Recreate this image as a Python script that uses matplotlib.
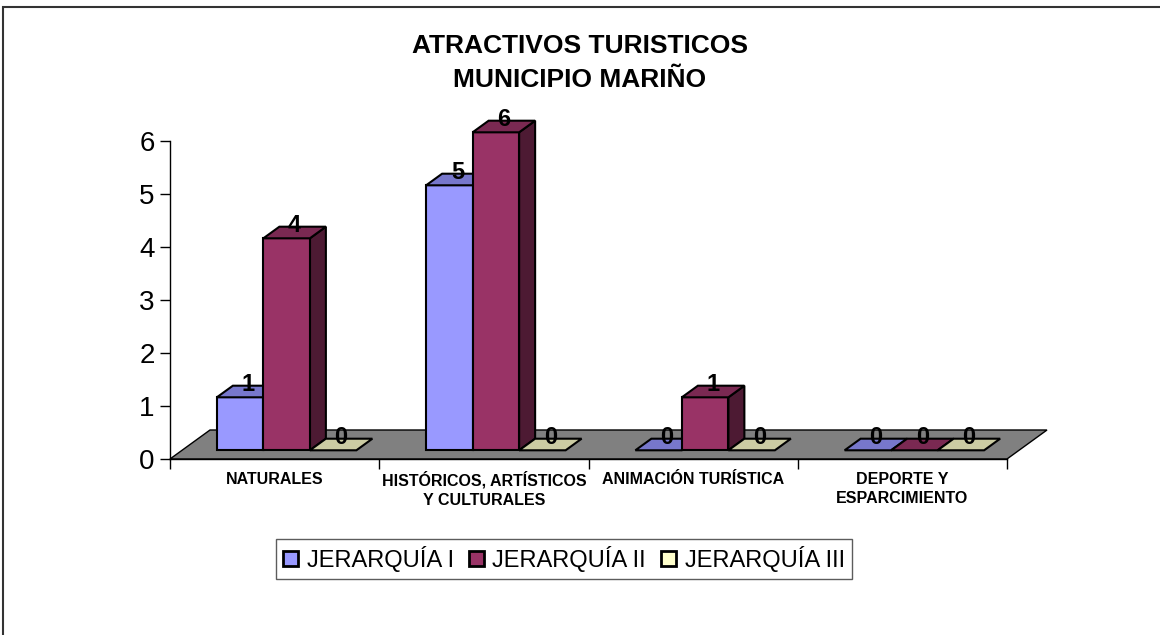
import numpy as np
import matplotlib.pyplot as plt
from matplotlib.patches import Polygon, Patch, Rectangle

plt.rcParams['font.family'] = ['Liberation Sans', 'DejaVu Sans']

categories = ['NATURALES', 'HISTÓRICOS, ARTÍSTICOS\nY CULTURALES',
              'ANIMACIÓN TURÍSTICA', 'DEPORTE Y\nESPARCIMIENTO']
series = ['JERARQUÍA I', 'JERARQUÍA II', 'JERARQUÍA III']
jerarquia_1 = [1, 5, 0, 0]
jerarquia_2 = [4, 6, 1, 0]
jerarquia_3 = [0, 0, 0, 0]
y_ticks = [0, 1, 2, 3, 4, 5, 6]

front_colors = ['#9999FF', '#993366', '#FFFFCC']
top_colors = ['#7777CC', '#7A2952', '#CCCCA3']
side_colors = ['#4C4C80', '#4D1A33', '#808066']

W, H = 1160, 635
fig = plt.figure(figsize=(W / 100, H / 100), dpi=100)

# axes box in pixels (from top-left of the image)
ax_l, ax_r, ax_t, ax_b = 170, 1007, 141, 459
ax = fig.add_axes([ax_l / W, 1 - ax_b / H, (ax_r - ax_l) / W, (ax_b - ax_t) / H])
ax.set_xlim(0, len(categories))
ax.set_ylim(0, max(y_ticks))

# pixel -> data conversion for the fake 3d depth
px_x = len(categories) / (ax_r - ax_l)
px_y = max(y_ticks) / (ax_b - ax_t)
floor_dx, floor_dy = 40 * px_x, 29 * px_y
front_dx, front_dy = 0.3 * floor_dx, 0.3 * floor_dy
ddx, ddy = 0.4 * floor_dx, 0.4 * floor_dy
bw = 46.5 / 209.25

# floor
n = len(categories)
floor = Polygon([(0, 0), (n, 0), (n + floor_dx, floor_dy), (floor_dx, floor_dy)],
                closed=True, facecolor='#808080', edgecolor='black', lw=1,
                clip_on=False, zorder=1)
ax.add_patch(floor)

values = [jerarquia_1, jerarquia_2, jerarquia_3]
z = 2
for i in range(n):
    for j, vals in enumerate(values):
        v = vals[i]
        x0 = i + 0.5 - 1.5 * bw + j * bw + front_dx
        base = front_dy
        if v > 0:
            side = Polygon([(x0 + bw, base), (x0 + bw + ddx, base + ddy),
                            (x0 + bw + ddx, base + v + ddy), (x0 + bw, base + v)],
                           closed=True, facecolor=side_colors[j], edgecolor='black',
                           lw=1.5, clip_on=False, zorder=z)
            ax.add_patch(side)
            ax.bar(x0, v, width=bw, bottom=base, align='edge', color=front_colors[j],
                   edgecolor='black', lw=1.5, clip_on=False, zorder=z + 1)
        top = Polygon([(x0, base + v), (x0 + bw, base + v),
                       (x0 + bw + ddx, base + v + ddy), (x0 + ddx, base + v + ddy)],
                      closed=True, facecolor=top_colors[j], edgecolor='black',
                      lw=1.5, clip_on=False, zorder=z + 1)
        ax.add_patch(top)
        z += 2
        ax.text(x0 + bw / 2 + ddx / 2, base + v + ddy / 2 + 7 * px_y, str(v),
                ha='center', va='center', fontsize=17, fontweight='bold', zorder=100)

for s in ['top', 'right']:
    ax.spines[s].set_visible(False)
ax.spines['left'].set_linewidth(1)
ax.spines['bottom'].set_linewidth(1)
ax.spines['bottom'].set_zorder(2)

ax.set_yticks(y_ticks)
ax.set_yticklabels([str(t) for t in y_ticks], fontsize=20)
ax.tick_params(axis='y', direction='out', length=7, width=1, pad=4)
ax.set_xticks(np.arange(n + 1))
ax.set_xticklabels([])
ax.tick_params(axis='x', which='major', direction='out', length=7, width=1)
ax.set_xticks(np.arange(n) + 0.5, minor=True)
ax.set_xticklabels(categories, minor=True, fontsize=11.5, fontweight='bold',
                   linespacing=1.35, va='top')
ax.tick_params(axis='x', which='minor', length=0, pad=9)
ax.patch.set_visible(False)

fig.text(580 / W, 1 - 63 / H, 'ATRACTIVOS TURISTICOS\nMUNICIPIO MARIÑO',
         ha='center', va='center', fontsize=19, fontweight='bold', linespacing=1.5)

handles = [Patch(facecolor=c, edgecolor='black', lw=2) for c in front_colors]
leg = fig.legend(handles, series, loc='center', bbox_to_anchor=(564 / W, 1 - 559 / H),
                 ncol=3, frameon=True, fancybox=False, edgecolor='#333333',
                 handlelength=0.62, handleheight=0.62, handletextpad=0.38,
                 columnspacing=0.64, borderpad=0.3, fontsize=17)
leg.get_frame().set_linewidth(1)

fig.patches.append(Rectangle((3 / W, -0.02), 1.05, 1 - 7 / H + 0.02,
                             transform=fig.transFigure, fill=False,
                             edgecolor='#333333', lw=1.5))

fig.savefig('out.png', dpi=100)
